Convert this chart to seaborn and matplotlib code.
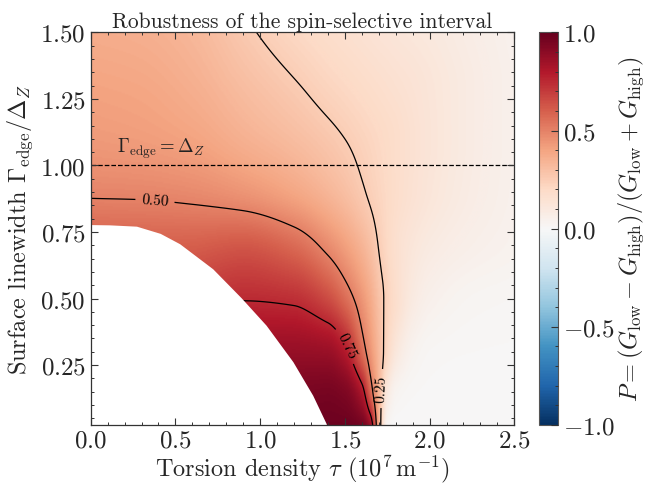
import numpy as np
import matplotlib
matplotlib.use("Agg")
import matplotlib.pyplot as plt
from matplotlib.ticker import MultipleLocator
import seaborn as sns

# ---------------- data ----------------
tau_nodes = [0.0, 0.3, 0.6, 0.9, 1.2, 1.4, 1.5, 1.6, 1.65, 1.7, 1.75, 1.8, 1.9, 2.0, 2.25, 2.5]
gamma_nodes = [0.025, 0.15, 0.3, 0.5, 0.7, 0.9, 1.1, 1.3, 1.5]

P_g0025 = [0.95, 0.95, 0.96, 0.96, 0.97, 0.98, 0.98, 0.96, 0.85, 0.35, 0.02, 0.0, 0.0, 0.0, 0.0, 0.0]
P_g015 = [0.90, 0.91, 0.92, 0.93, 0.94, 0.95, 0.93, 0.80, 0.57, 0.33, 0.10, 0.03, 0.01, 0.005, 0.0, 0.0]
P_g030 = [0.80, 0.82, 0.84, 0.86, 0.87, 0.86, 0.79, 0.56, 0.44, 0.32, 0.20, 0.11, 0.035, 0.015, 0.008, 0.006]
P_g050 = [0.60, 0.65, 0.70, 0.745, 0.73, 0.65, 0.56, 0.44, 0.372, 0.29, 0.225, 0.172, 0.09, 0.05, 0.022, 0.015]
P_g070 = [0.585, 0.592, 0.60, 0.62, 0.565, 0.47, 0.41, 0.34, 0.297, 0.246, 0.20, 0.165, 0.118, 0.09, 0.055, 0.035]
P_g090 = [0.49, 0.487, 0.475, 0.445, 0.39, 0.335, 0.302, 0.26, 0.238, 0.217, 0.197, 0.178, 0.147, 0.12, 0.075, 0.043]
P_g110 = [0.43, 0.42, 0.40, 0.355, 0.31, 0.272, 0.25, 0.226, 0.214, 0.202, 0.19, 0.178, 0.152, 0.127, 0.08, 0.045]
P_g130 = [0.40, 0.39, 0.36, 0.308, 0.257, 0.22, 0.204, 0.188, 0.18, 0.172, 0.164, 0.156, 0.14, 0.122, 0.08, 0.045]
P_g150 = [0.37, 0.36, 0.33, 0.266, 0.208, 0.178, 0.164, 0.15, 0.143, 0.136, 0.13, 0.123, 0.112, 0.102, 0.07, 0.04]

# boundary of the undefined (white) region
mask_tau = [0.0, 0.11, 0.27, 0.41, 0.525, 0.72, 0.888, 1.035, 1.193, 1.31, 1.39, 1.40]
mask_gamma = [0.778, 0.777, 0.772, 0.745, 0.706, 0.612, 0.503, 0.40, 0.263, 0.137, 0.03, 0.0]

contour_levels = [0.25, 0.50, 0.75]
label_positions = [(0.38, 0.873), (1.513, 0.324), (1.718, 0.162)]


# smooth (shape-preserving) resampling of the read grid for display
def pchip(x, y, xnew):
    x = np.asarray(x, float)
    y = np.asarray(y, float)
    h = np.diff(x)
    delta = np.diff(y, axis=0) / h[:, None]
    n = len(x)
    d = np.zeros_like(y)
    d[0] = delta[0]
    d[-1] = delta[-1]
    for k in range(1, n - 1):
        w1 = 2 * h[k] + h[k - 1]
        w2 = h[k] + 2 * h[k - 1]
        a, b = delta[k - 1], delta[k]
        same = (a * b) > 0
        with np.errstate(divide="ignore", invalid="ignore"):
            val = (w1 + w2) / (w1 / a + w2 / b)
        d[k] = np.where(same, val, 0.0)
    idx = np.clip(np.searchsorted(x, xnew) - 1, 0, n - 2)
    t = ((xnew - x[idx]) / h[idx])[:, None]
    hh = h[idx][:, None]
    h00 = 2 * t**3 - 3 * t**2 + 1
    h10 = t**3 - 2 * t**2 + t
    h01 = -2 * t**3 + 3 * t**2
    h11 = t**3 - t**2
    return h00 * y[idx] + h10 * hh * d[idx] + h01 * y[idx + 1] + h11 * hh * d[idx + 1]


# ---------------- style ----------------
sns.set_style("ticks")
plt.rcParams.update({
    "font.family": ["serif"],
    "font.serif": ["cmr10", "DejaVu Serif"],
    "mathtext.fontset": "cm",
    "axes.formatter.use_mathtext": True,
    "axes.unicode_minus": True,
    "axes.axisbelow": False,
    "xtick.direction": "in",
    "ytick.direction": "in",
    "xtick.top": True,
    "ytick.right": True,
})

cmap = sns.color_palette("RdBu_r", as_cmap=True)
P = np.array([P_g0025, P_g015, P_g030, P_g050, P_g070, P_g090, P_g110, P_g130, P_g150])

tau_f = np.linspace(tau_nodes[0], tau_nodes[-1], 501)
gam_f = np.linspace(gamma_nodes[0], gamma_nodes[-1], 296)
P_rows = pchip(tau_nodes, P.T, tau_f).T          # (n_gamma, n_tau_f)
P_f = pchip(gamma_nodes, P_rows, gam_f)          # (n_gam_f, n_tau_f)
P_f = np.clip(P_f, -1, 1)

fig = plt.figure(figsize=(6.46, 4.85), dpi=100)
ax = fig.add_axes([90.7 / 646, (485 - 426) / 485, 423.6 / 646, (426 - 33.4) / 485])
cax = fig.add_axes([539 / 646, (485 - 426) / 485, 19 / 646, (426 - 33.4) / 485])
ax.set_axisbelow(False)

im = ax.imshow(P_f, extent=[tau_f[0], tau_f[-1], gam_f[0], gam_f[-1]], origin="lower",
               aspect="auto", cmap=cmap, vmin=-1, vmax=1, interpolation="bilinear",
               zorder=1)
cs = ax.contour(tau_f, gam_f, P_f, levels=contour_levels, colors="k", linewidths=0.9,
                zorder=2.1)
ax.clabel(cs, fmt="%.2f", fontsize=11, inline=True, inline_spacing=6,
          manual=label_positions)

ax.fill_between(mask_tau, 0.0, mask_gamma, color="white", lw=0, zorder=2.2)
ax.axhline(1.0, color="k", ls="--", lw=0.9, zorder=2.3)
ax.text(0.153, 1.05, r"$\Gamma_{\rm edge} = \Delta_Z$", fontsize=13.5, color="#222222",
        zorder=3)

ax.set_xlim(0, 2.5)
ax.set_ylim(0.025, 1.5)
ax.xaxis.set_major_locator(MultipleLocator(0.5))
ax.xaxis.set_minor_locator(MultipleLocator(0.1))
ax.yaxis.set_major_locator(MultipleLocator(0.25))
ax.yaxis.set_minor_locator(MultipleLocator(0.05))
ax.tick_params(which="both", direction="in", top=True, right=True, color="#333333",
               labelsize=18, zorder=5)
ax.tick_params(which="major", length=5, width=0.8)
ax.tick_params(which="minor", length=2.5, width=0.7)
for sp in ax.spines.values():
    sp.set_color("#333333")
    sp.set_linewidth(0.9)
    sp.set_zorder(4)

ax.set_xlabel(r"Torsion density $\tau$ $(10^7\,\mathrm{m}^{-1})$", fontsize=17.5, labelpad=0)
ax.set_ylabel(r"Surface linewidth $\Gamma_{\rm edge}/\Delta_Z$", fontsize=17.5, labelpad=4)
ax.set_title("Robustness of the spin-selective interval", fontsize=15.5, pad=4)

cb = fig.colorbar(im, cax=cax)
cb.set_ticks([-1.0, -0.5, 0.0, 0.5, 1.0])
cb.ax.yaxis.set_minor_locator(MultipleLocator(0.1))
cb.ax.tick_params(which="both", direction="in", labelsize=18, color="#333333")
cb.ax.tick_params(which="major", length=5, width=0.8)
cb.ax.tick_params(which="minor", length=2.5, width=0.7)
cb.outline.set_edgecolor("#555555")
cb.outline.set_linewidth(0.8)
cb.set_label(r"$P = (G_{\rm low} - G_{\rm high})/(G_{\rm low} + G_{\rm high})$",
             fontsize=17.5, labelpad=1)

fig.savefig("out.png", dpi=100)
